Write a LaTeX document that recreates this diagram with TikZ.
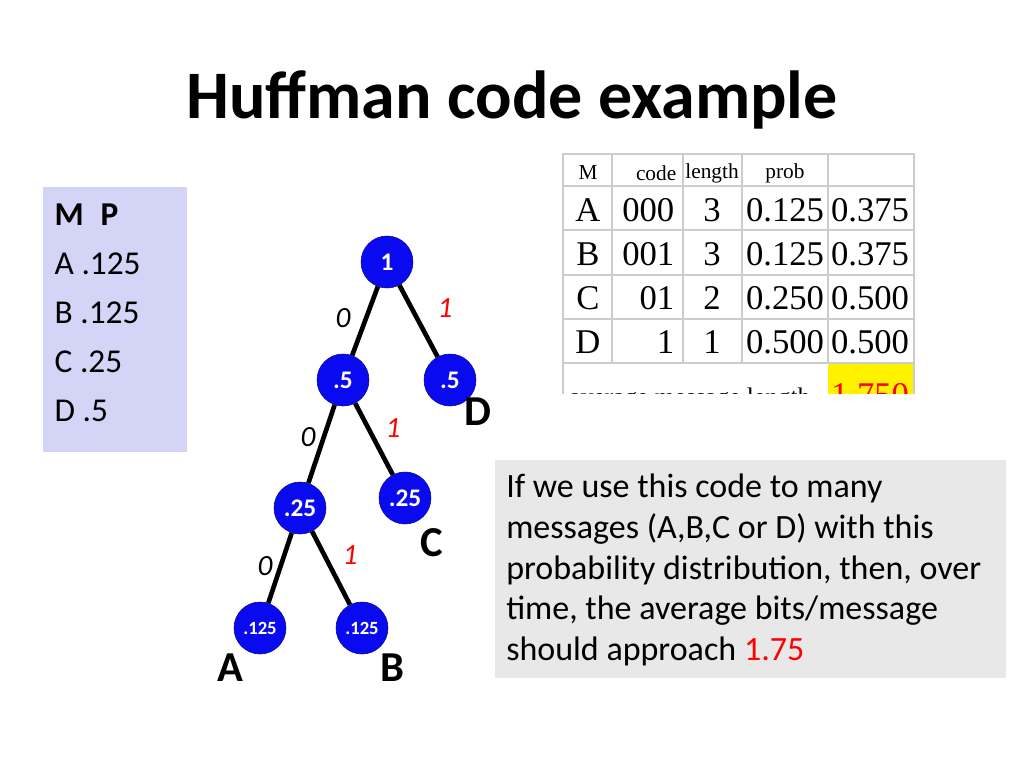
\documentclass[tikz,border=0pt]{standalone}
\usepackage{fontspec}
\setmainfont{Carlito}
\newfontfamily\tabfont{Liberation Serif}
\usetikzlibrary{positioning,calc}
\definecolor{lav}{RGB}{212,212,246}
\definecolor{boxgray}{RGB}{232,232,232}
\definecolor{nodeblue}{RGB}{10,10,240}
\begin{document}
\begin{tikzpicture}[x=0.75pt,y=-0.75pt,
  hnode/.style={circle,fill=nodeblue,draw=nodeblue!60!black,minimum size=39pt,inner sep=0pt,text=white,font=\bfseries\fontsize{19}{22}\selectfont},
  leafnode/.style={hnode,font=\bfseries\fontsize{14}{16}\selectfont},
  edge/.style={line width=3.5pt},
  bit/.style={font=\itshape\fontsize{22}{26}\selectfont},
  sym/.style={font=\bfseries\fontsize{32}{36}\selectfont},
  cell/.style={font=\tabfont\fontsize{26}{28}\selectfont},
  head/.style={font=\tabfont\fontsize{16}{18}\selectfont},
  mptext/.style={anchor=west,font=\fontsize{25}{30}\selectfont}]
\useasboundingbox (0,0) rectangle (1024,768);
% title
\node (title) at (512,100) {\bfseries\fontsize{51}{58}\selectfont Huffman code example};
% M P box
\fill[lav] (43,187) rectangle (187,452);
\node[mptext] (mp) at (50,215) {\bfseries M\enspace P};
\foreach \s/\p [count=\i] in {A/.125,B/.125,C/.25,D/.5}
  \node[mptext] (mp\i) at (50,215+49*\i) {\s\ \p};
% table
\begin{scope}
\clip (560,150) rectangle (918,393);
\fill[yellow] (828,363) rectangle (914,400);
\draw[gray!40,line width=1pt] (563,154) rectangle (914,400);
\foreach \y in {186,230,275,319,363} \draw[gray!40,line width=1pt] (563,\y) -- (914,\y);
\foreach \x in {612,683,742,828} \draw[gray!40,line width=1pt] (\x,154) -- (\x,363);
\node[head] (hm) at (588,173) {M};
\node[head,anchor=east] (hc) at (681,173) {code};
\node[head] (hl) at (712,173) {length};
\node[head] (hp) at (785,173) {prob};
\foreach \s/\c/\l/\p/\q [count=\i] in {A/000/3/0.125/0.375,B/001/3/0.125/0.375,C/01/2/0.250/0.500,D/1/1/0.500/0.500}{
  \node[cell] (ts\i) at (588,166+44*\i) {\s};
  \node[cell,anchor=east] (tc\i) at (679,166+44*\i) {\c};
  \node[cell] (tl\i) at (712,166+44*\i) {\l};
  \node[cell] (tp\i) at (785,166+44*\i) {\p};
  \node[cell] (tq\i) at (870,166+44*\i) {\q};
}
\node[head,anchor=west,font=\tabfont\fontsize{19}{21}\selectfont] (avg) at (565,399) {average message length};
\node[cell,text=red] (avgv) at (870,395) {1.750};
\end{scope}
% tree
\node[hnode] (root) at (387,262) {1};
\node[hnode] (h) at (343,380) {.5};
\node[hnode] (d) at (450,380) {.5};
\node[hnode] (q) at (300,508) {.25};
\node[hnode] (c) at (405,498) {.25};
\node[leafnode] (a) at (260,628) {.125};
\node[leafnode] (b) at (362,628) {.125};
\draw[edge] (root) -- (h);
\draw[edge] (root) -- (d);
\draw[edge] (h) -- (q);
\draw[edge] (h) -- (c);
\draw[edge] (q) -- (a);
\draw[edge] (q) -- (b);
\node[bit] (b1) at (343,318) {0};
\node[bit,text=red] (b2) at (445,308) {1};
\node[bit] (b3) at (308,437) {0};
\node[bit,text=red] (b4) at (393,428) {1};
\node[bit] (b5) at (265,566) {0};
\node[bit,text=red] (b6) at (350,555) {1};
\node[sym] (ld) at (478,412) {D};
\node[sym] (lc) at (432,543) {C};
\node[sym] (la) at (230,668) {A};
\node[sym] (lb) at (392,668) {B};
% note
\fill[boxgray] (495,460) rectangle (1006,678);
\node[anchor=north west,align=left,font=\fontsize{25.5}{30.5}\selectfont,inner sep=0pt] (note) at (506,474)
  {If we use this code to many\\messages (A,B,C or D) with this\\probability distribution, then, over\\time, the average bits/message\\should approach \textcolor{red}{1.75}};
\end{tikzpicture}
\end{document}
